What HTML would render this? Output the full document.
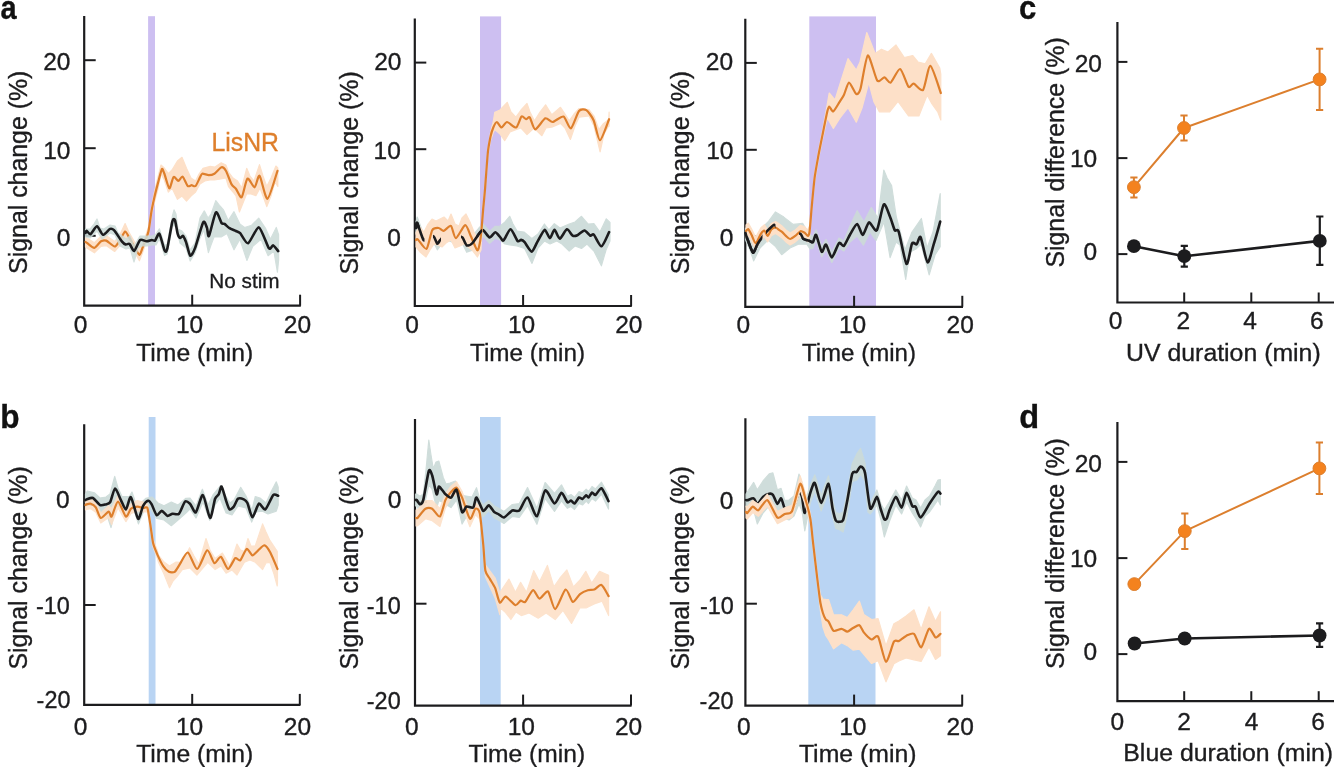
<!DOCTYPE html>
<html><head><meta charset="utf-8"><title>Figure</title>
<style>html,body{margin:0;padding:0;background:#fff;width:1334px;height:767px;overflow:hidden}
svg text{font-family:"Liberation Sans", sans-serif}</style></head>
<body>
<svg width="1334" height="767" viewBox="0 0 1334 767" style="display:block;font-family:'Liberation Sans', sans-serif;filter:blur(0.35px)">
<rect width="1334" height="767" fill="#ffffff"/>
<rect x="148.1" y="16.2" width="6.9" height="289.5" fill="#cdbff1"/>
<path d="M84.2 16 L84.2 305.7 L300.8 305.7" fill="none" stroke="#1c1c1e" stroke-width="2.2" stroke-linejoin="miter"/>
<line x1="84.2" y1="60.2" x2="95.7" y2="60.2" stroke="#1c1c1e" stroke-width="2"/>
<line x1="84.2" y1="148.2" x2="95.7" y2="148.2" stroke="#1c1c1e" stroke-width="2"/>
<line x1="84.2" y1="235.8" x2="95.7" y2="235.8" stroke="#1c1c1e" stroke-width="2"/>
<line x1="192.2" y1="305.7" x2="192.2" y2="294.7" stroke="#1c1c1e" stroke-width="2"/>
<line x1="300.1" y1="305.7" x2="300.1" y2="294.7" stroke="#1c1c1e" stroke-width="2"/>
<path d="M85.5 237 L87.3 238.2 L94.4 242.8 L101 236.3 L106.2 235.6 L114.6 241.5 L119.2 236.3 L125.1 223.5 L129 232.4 L134 241 L139.4 248.8 L142.6 242.6 L145.5 236 L148.5 227.3 L151.7 206 L154.1 193.5 L158 176.9 L161 165 L164.3 168 L168.3 173.7 L172 170 L177.4 161 L182 157.3 L186.5 168.3 L191 178 L195.6 181 L199 174 L203 168.3 L210.2 166.4 L215 167 L221.2 162.8 L225.9 165 L228.5 172 L233 178 L237.6 181 L241.7 188 L246.7 168.3 L250 176 L254 181 L259.5 164.6 L263 176 L266.8 186.5 L271 178 L275.9 166 L277.8 168 L277.8 186.5 L275 182 L271 196 L266.8 206.6 L263 196 L260 188 L255.9 195.6 L251 194 L246.7 193.8 L243 203 L239.4 212 L236 196 L233 192 L228.5 186.5 L225.9 178 L219.4 179.2 L214.4 180 L210 180 L204.8 181 L200 184 L195.6 192 L191 196 L186.5 201.1 L182 196 L177.4 199.3 L172 188 L168.3 192 L164.3 180 L161 174 L158 188.9 L154.1 203.5 L151.7 214 L148.5 235.3 L145.5 244 L142.6 252.6 L139.4 260.8 L134 251 L129 242.4 L125.1 237.5 L119.2 246.3 L114.6 251.5 L106.2 245.6 L101 246.3 L94.4 252.8 L87.3 248.2 L85.5 247 Z" fill="#fde0c8" stroke="#fde0c8" stroke-width="1.2" stroke-linejoin="round"/>
<path d="M85.5 242 C85.7 242.1 86.3 242.5 87.3 243.2 C88.3 243.9 92.8 248 94.4 247.8 C96 247.6 99.6 242.1 101 241.3 C102.4 240.5 104.6 240 106.2 240.6 C107.8 241.2 113.1 246.4 114.6 246.5 C116.1 246.6 118 243.1 119.2 241.3 C120.4 239.6 124 232 125.1 231.5 C126.2 231 128 235.7 129 237.4 C130 239.1 132.8 244 134 246 C135.2 248 138.4 254.6 139.4 254.8 C140.4 255 141.9 249.3 142.6 247.6 C143.3 245.9 144.8 241.9 145.5 240 C146.2 238.1 147.8 234.8 148.5 231.3 C149.2 227.8 151 213.8 151.7 210 C152.4 206.2 153.4 201.7 154.1 198.5 C154.8 195.3 157.1 186.3 158 182.9 C158.9 179.5 161.2 170.3 161.9 169.2 C162.6 168.1 163.4 171.3 164.3 173.5 C165.2 175.7 168.2 187.9 169.3 188.3 C170.4 188.7 172.5 177.9 173.6 177 C174.7 176.1 177.2 180.9 178.3 180.9 C179.4 180.9 181.5 176 182.6 176.6 C183.7 177.2 186.6 185 187.7 186 C188.8 187 190.7 185.2 191.6 185.2 C192.5 185.2 194.6 186.9 195.6 186 C196.6 185.1 199.2 178.8 200 177.4 C200.8 176 201.2 174 202.2 173.7 C203.2 173.4 207.3 175.1 208.7 175.1 C210.1 175.1 212.9 174.6 214.4 173.7 C215.9 172.8 220.3 167.5 221.6 167.2 C222.9 166.9 224.7 168.8 225.9 170.8 C227.1 172.8 230.4 182.3 231.6 184.4 C232.8 186.5 234.7 187.2 235.9 188.7 C237.1 190.2 240.4 198.5 241.7 197.3 C243 196.1 245.9 179.9 247.4 178.7 C248.9 177.5 253.2 187.6 254.6 187.3 C256 187 258.1 174.5 259.6 175.8 C261.1 177.1 265.4 199.4 267.5 198.8 C269.6 198.2 276.3 174.1 277.5 170.8" fill="none" stroke="#de7f2c" stroke-width="2.2" stroke-linejoin="round" stroke-linecap="round"/>
<path d="M85.5 229 L90 229 L94 224 L97 219 L100 228 L104 229 L110 225 L115 226 L118 233 L122 236 L126 239 L130 236 L134 246 L140 236 L146 236 L152 236 L156 234 L159.4 228.8 L164.6 245.5 L167.2 244 L172.4 216 L174 209.8 L176 214 L178 229 L182 231 L186 236 L190 250 L195 243 L200 218 L204.3 210.9 L208 218 L211.1 214 L215.8 200.6 L220 206 L223.5 210 L228.2 220.5 L234 211.7 L239.9 224 L244.6 227.5 L251.6 225.2 L258.7 218.2 L265.7 228.7 L270.4 239.3 L276.3 227.5 L278.6 234.6 L278.6 260.4 L277.4 272.1 L273.9 251 L268.1 255.7 L261 239.3 L252.8 246.3 L246.9 260.4 L239.9 239.3 L234 249.8 L227 233.4 L221.1 236.9 L214.1 236.9 L211 245 L208.4 252.6 L204 230 L200 238 L195 253 L190.2 261 L186 248 L180 243 L176 226 L172.4 226 L167.2 254 L164.6 255.5 L159.4 238.8 L156 245 L152 245 L147 246 L142 246 L138 248 L134 262 L130 248 L126 249 L120 246 L115 235 L110 233 L102 239 L97 231 L90 238 L85.5 237 Z" fill="#ccdbd8" stroke="#ccdbd8" stroke-width="1.2" stroke-linejoin="round" opacity="0.85"/>
<path d="M85.5 233 C85.6 232.7 86 230.7 86.6 230.8 C87.2 230.9 89.3 234.6 90.5 234.1 C91.7 233.6 95.6 226.2 97 226.3 C98.4 226.4 101.4 234.5 102.9 234.8 C104.4 235.1 108.8 229.4 110.1 228.9 C111.4 228.4 112.6 228.8 114 230.2 C115.4 231.6 120.4 239.6 121.8 241.3 C123.2 243 124.8 244.2 125.7 244.5 C126.6 244.8 128.6 243.1 129.6 243.9 C130.6 244.7 133 251.5 134.2 251 C135.4 250.5 138.7 241.1 140.1 240 C141.5 238.9 145.2 241.3 146.6 241.3 C148 241.3 150.8 240.1 151.8 240 C152.8 239.9 154.1 241.3 155 240.6 C155.9 239.9 158.3 232.6 159.4 233.8 C160.5 235 163.7 248.7 164.6 250.5 C165.5 252.3 166.3 252.4 167.2 249 C168.1 245.6 171.5 224.6 172.4 221.3 C173.3 218 174.4 218.8 175 220.3 C175.6 221.8 177.1 231.7 177.7 233.8 C178.3 235.9 179.7 237.8 180.3 238 C180.9 238.2 182.2 235.4 182.9 235.9 C183.6 236.4 185.1 239.7 186 242 C186.9 244.3 189.2 255 190.2 255.7 C191.2 256.4 193.4 252.3 194.9 248.4 C196.4 244.5 201.8 224.7 203.2 222.3 C204.6 219.9 206.2 226 206.9 227.6 C207.6 229.2 207.9 237.7 209 235.9 C210.1 234.1 214.4 213.9 215.9 212.4 C217.4 210.9 220.6 221.8 221.6 223.1 C222.6 224.4 223.6 223.3 224.5 223.9 C225.4 224.5 228.2 227.4 229.5 228.2 C230.8 229 234.7 230.4 235.9 231 C237.1 231.6 238.8 231.8 240.2 233.2 C241.6 234.6 245.9 243.9 248.1 243.2 C250.3 242.5 256.5 226.8 258.9 227.4 C261.3 228 267.2 246.1 268.9 248.2 C270.6 250.3 272.1 245.1 273.2 245.4 C274.3 245.7 277.6 250.4 278.2 251.1" fill="none" stroke="#1c1c1e" stroke-width="2.6" stroke-linejoin="round" stroke-linecap="round"/>
<text x="70.4" y="70" font-size="24.5" text-anchor="end" font-weight="normal" fill="#1c1c1e" stroke="#1c1c1e" stroke-width="0.35">20</text>
<text x="70.4" y="159.3" font-size="24.5" text-anchor="end" font-weight="normal" fill="#1c1c1e" stroke="#1c1c1e" stroke-width="0.35">10</text>
<text x="70.4" y="245.7" font-size="24.5" text-anchor="end" font-weight="normal" fill="#1c1c1e" stroke="#1c1c1e" stroke-width="0.35">0</text>
<text x="80.5" y="333" font-size="24.5" text-anchor="middle" font-weight="normal" fill="#1c1c1e" stroke="#1c1c1e" stroke-width="0.35">0</text>
<text x="189.6" y="333" font-size="24.5" text-anchor="middle" font-weight="normal" fill="#1c1c1e" stroke="#1c1c1e" stroke-width="0.35">10</text>
<text x="297.4" y="333" font-size="24.5" text-anchor="middle" font-weight="normal" fill="#1c1c1e" stroke="#1c1c1e" stroke-width="0.35">20</text>
<text transform="translate(26.7 273.9) rotate(-90)" x="0" y="0" font-size="25" fill="#1c1c1e" stroke="#1c1c1e" stroke-width="0.35" textLength="203.3" lengthAdjust="spacingAndGlyphs">Signal change (%)</text>
<text x="136.2" y="360.8" font-size="24.7" text-anchor="start" font-weight="normal" fill="#1c1c1e" stroke="#1c1c1e" stroke-width="0.35" textLength="117.1" lengthAdjust="spacingAndGlyphs">Time (min)</text>
<rect x="480" y="16.4" width="21.1" height="289.6" fill="#cdbff1"/>
<path d="M414.8 18.5 L414.8 306 L631.8 306" fill="none" stroke="#1c1c1e" stroke-width="2.2" stroke-linejoin="miter"/>
<line x1="414.8" y1="62.6" x2="426.3" y2="62.6" stroke="#1c1c1e" stroke-width="2"/>
<line x1="414.8" y1="149.2" x2="426.3" y2="149.2" stroke="#1c1c1e" stroke-width="2"/>
<line x1="414.8" y1="236" x2="426.3" y2="236" stroke="#1c1c1e" stroke-width="2"/>
<line x1="523.1" y1="306" x2="523.1" y2="295" stroke="#1c1c1e" stroke-width="2"/>
<line x1="631.1" y1="306" x2="631.1" y2="295" stroke="#1c1c1e" stroke-width="2"/>
<path d="M416 222 L417.2 217 L423.6 234.2 L428 230 L433.7 230.6 L437.3 237.8 L440.1 234.2 L446 228 L452 230 L457 230 L462.4 231.4 L466.7 238.3 L472.4 236.1 L479.6 227.1 L483.2 224.2 L489.6 231.4 L495.3 226.3 L499.8 226.2 L505 222 L509.7 216.3 L513 224 L517.1 231.1 L524 232 L532 238.6 L538 234 L544.4 224 L549 230 L554.3 223.7 L560 228 L569.2 224 L575 222 L581.5 216.3 L588 224 L593.9 223.7 L600 232 L606.3 218.8 L610 222.5 L610 241 L606 250 L601.4 265.8 L593.9 251 L587 244 L581.5 248.5 L575 246 L569.2 251 L562 244 L556.8 241 L550 244 L544.4 241 L538 248 L532 263.4 L524.6 248.5 L517 246 L509.7 244.8 L505 244 L499.8 240 L495.3 238.3 L489.6 243.4 L483.2 236.2 L479.6 239.1 L472.4 250.1 L466.7 252.3 L462.4 243.4 L457 242 L452 242 L446 240 L440.1 246.2 L437.3 249.8 L433.7 242.6 L428 242 L423.6 246.2 L417.2 229 L416 234 Z" fill="#ccdbd8" stroke="#ccdbd8" stroke-width="1.2" stroke-linejoin="round" opacity="0.92"/>
<path d="M416 228 C416.1 227.4 416.3 221.6 417.2 223 C418.1 224.4 422.3 238.7 423.6 240.2 C424.9 241.7 426.8 236.4 428 236 C429.2 235.6 432.6 235.7 433.7 236.6 C434.8 237.5 436.6 243.4 437.3 243.8 C438 244.2 439.1 241.3 440.1 240.2 C441.1 239.1 444.6 234.5 446 234 C447.4 233.5 450.7 235.8 452 236 C453.3 236.2 455.8 235.8 457 236 C458.2 236.2 461.3 236.3 462.4 237.4 C463.5 238.5 465.5 244.6 466.7 245.3 C467.9 246 470.9 244.5 472.4 243.1 C473.9 241.7 478.3 234.6 479.6 233.1 C480.9 231.6 482 229.7 483.2 230.2 C484.4 230.7 488.2 237.2 489.6 237.4 C491 237.6 494.1 232.4 495.3 232.3 C496.5 232.2 499 236 500 236.9 C501 237.8 502.3 241.3 503.5 240.4 C504.7 239.5 509 229.2 510.6 229.3 C512.2 229.4 516.4 239.8 517.6 241 C518.8 242.2 520.3 239.8 521.1 239.9 C521.9 240 523.4 240.8 524.6 242.2 C525.8 243.6 530.2 251.7 531.7 251.6 C533.2 251.5 536 244.1 537.5 241.6 C539 239.1 543.2 230.3 544.6 229.9 C546 229.5 548.7 238.1 549.9 238.1 C551.1 238.1 553.3 229.8 554.5 229.9 C555.7 230 558.4 238.8 559.8 238.7 C561.2 238.6 565.4 229.7 566.9 229.3 C568.4 229 571.5 235 572.7 235.7 C573.9 236.4 576 235.8 577.4 235.2 C578.8 234.6 583 230.4 584.5 230.5 C586 230.6 589.2 235.2 590.3 235.7 C591.4 236.2 592.5 233.4 593.8 234.6 C595.1 235.8 599.7 246.6 601.5 246.3 C603.3 246 608.2 233.8 609.1 232.2" fill="none" stroke="#1c1c1e" stroke-width="2.6" stroke-linejoin="round" stroke-linecap="round"/>
<path d="M416 232 L420 227 L424 232 L428 224 L432 219 L436 221 L440 219 L444 217 L448 221 L451 214 L455 224 L459 226 L462 218 L466 214 L470 222 L474 232 L478 240 L481 232 L482.3 217 L483.2 205.7 L485 186.5 L487.8 150 L490.5 132.6 L493.3 121.5 L494.8 112.2 L500 110 L507.2 102.3 L511 112 L515.9 117.2 L521 110 L527 103.5 L530 112 L534.5 120.9 L540 112 L545.6 104.8 L551.8 114.7 L560.5 107.3 L565 114 L569.2 120.9 L574 114 L579.1 108.5 L589 109.7 L594 116 L598.9 129.6 L603 124 L608.8 119.6 L609.1 112.2 L609.1 126.2 L608.8 125.8 L604 134 L600.1 151.9 L594 126 L589 115.9 L579.1 117.2 L575 126 L570.4 139.5 L565 128 L560.5 123.4 L551.8 127.1 L546 128 L541.9 135.7 L534 128 L527 134.5 L521 128 L515.9 129.6 L510 132 L504.7 140.7 L500 134 L494.8 129.6 L493.3 132.5 L490.5 140.6 L487.8 156 L485 192.5 L483.2 211.7 L482.3 223 L481 250 L477.4 257 L472 250 L468 247 L464 244 L460 246 L455 248 L451 240 L446 243 L442 247 L438 245 L434 244 L430 250 L426 257 L420 252 L416 247 Z" fill="#fde0c8" stroke="#fde0c8" stroke-width="1.2" stroke-linejoin="round"/>
<path d="M416 240 C416.2 239.9 416.7 238.5 417.9 239.5 C419.1 240.5 424.8 249.9 426.5 248.8 C428.2 247.7 430.8 232.6 432.2 230.2 C433.6 227.8 437.4 227.9 438.7 228 C440 228.1 442.3 231.1 443.7 230.9 C445.1 230.7 449.5 225.1 450.9 225.9 C452.3 226.7 454.2 238.2 455.9 238.1 C457.6 238 463.4 225.4 465.2 225.2 C467 225 469.6 233.7 471 236.6 C472.4 239.5 476.3 249.9 477.4 250.3 C478.5 250.7 479.7 243.7 480.3 240.2 C480.9 236.7 482 223.7 482.3 220 C482.6 216.3 482.9 212.3 483.2 208.7 C483.5 205.1 484.5 196 485 189.5 C485.5 183 487.2 159.2 487.8 153 C488.4 146.8 489.9 139.6 490.5 136.6 C491.1 133.6 492.6 129.2 493.3 127.5 C494 125.8 495.9 122 496.9 122 C497.9 122 500.3 127.5 501.5 127.5 C502.7 127.5 505.3 122 507 122 C508.7 122 514.4 128.1 516.1 127.5 C517.8 126.9 520.3 117.5 521.5 116.5 C522.7 115.5 525.1 119.1 526.1 119.2 C527.1 119.3 528.7 116.2 529.8 117.4 C530.9 118.6 533.4 129.2 535.2 129.3 C537 129.4 543.3 119.2 545.3 118.3 C547.3 117.4 550.5 122.2 552.6 122 C554.7 121.8 561.4 115.8 563.5 116.5 C565.6 117.2 569 129 570.8 128.4 C572.6 127.8 577.2 113.1 579 111 C580.8 108.9 584.6 109 586.3 110.1 C588 111.2 592 116.7 593.6 120.2 C595.2 123.7 598.2 140.3 600 140.2 C601.8 140.1 608 121.7 609.1 119.2" fill="none" stroke="#de7f2c" stroke-width="2.2" stroke-linejoin="round" stroke-linecap="round"/>
<clipPath id="clip_a2"><rect x="415" y="0" width="9.5" height="767"/><rect x="433" y="0" width="8" height="767"/><rect x="461" y="0" width="21" height="767"/></clipPath>
<path d="M416 228 C416.1 227.4 416.3 221.6 417.2 223 C418.1 224.4 422.3 238.7 423.6 240.2 C424.9 241.7 426.8 236.4 428 236 C429.2 235.6 432.6 235.7 433.7 236.6 C434.8 237.5 436.6 243.4 437.3 243.8 C438 244.2 439.1 241.3 440.1 240.2 C441.1 239.1 444.6 234.5 446 234 C447.4 233.5 450.7 235.8 452 236 C453.3 236.2 455.8 235.8 457 236 C458.2 236.2 461.3 236.3 462.4 237.4 C463.5 238.5 465.5 244.6 466.7 245.3 C467.9 246 470.9 244.5 472.4 243.1 C473.9 241.7 478.3 234.6 479.6 233.1 C480.9 231.6 482 229.7 483.2 230.2 C484.4 230.7 488.2 237.2 489.6 237.4 C491 237.6 494.1 232.4 495.3 232.3 C496.5 232.2 499 236 500 236.9 C501 237.8 502.3 241.3 503.5 240.4 C504.7 239.5 509 229.2 510.6 229.3 C512.2 229.4 516.4 239.8 517.6 241 C518.8 242.2 520.3 239.8 521.1 239.9 C521.9 240 523.4 240.8 524.6 242.2 C525.8 243.6 530.2 251.7 531.7 251.6 C533.2 251.5 536 244.1 537.5 241.6 C539 239.1 543.2 230.3 544.6 229.9 C546 229.5 548.7 238.1 549.9 238.1 C551.1 238.1 553.3 229.8 554.5 229.9 C555.7 230 558.4 238.8 559.8 238.7 C561.2 238.6 565.4 229.7 566.9 229.3 C568.4 229 571.5 235 572.7 235.7 C573.9 236.4 576 235.8 577.4 235.2 C578.8 234.6 583 230.4 584.5 230.5 C586 230.6 589.2 235.2 590.3 235.7 C591.4 236.2 592.5 233.4 593.8 234.6 C595.1 235.8 599.7 246.6 601.5 246.3 C603.3 246 608.2 233.8 609.1 232.2" fill="none" stroke="#1c1c1e" stroke-width="2.6" stroke-linejoin="round" stroke-linecap="round" clip-path="url(#clip_a2)"/>
<text x="401.5" y="70.1" font-size="24.5" text-anchor="end" font-weight="normal" fill="#1c1c1e" stroke="#1c1c1e" stroke-width="0.35">20</text>
<text x="400.8" y="159.3" font-size="24.5" text-anchor="end" font-weight="normal" fill="#1c1c1e" stroke="#1c1c1e" stroke-width="0.35">10</text>
<text x="400.8" y="245.7" font-size="24.5" text-anchor="end" font-weight="normal" fill="#1c1c1e" stroke="#1c1c1e" stroke-width="0.35">0</text>
<text x="412" y="333" font-size="24.5" text-anchor="middle" font-weight="normal" fill="#1c1c1e" stroke="#1c1c1e" stroke-width="0.35">0</text>
<text x="521.6" y="333" font-size="24.5" text-anchor="middle" font-weight="normal" fill="#1c1c1e" stroke="#1c1c1e" stroke-width="0.35">10</text>
<text x="628.8" y="333" font-size="24.5" text-anchor="middle" font-weight="normal" fill="#1c1c1e" stroke="#1c1c1e" stroke-width="0.35">20</text>
<text transform="translate(357.8 274.6) rotate(-90)" x="0" y="0" font-size="25" fill="#1c1c1e" stroke="#1c1c1e" stroke-width="0.35" textLength="203.3" lengthAdjust="spacingAndGlyphs">Signal change (%)</text>
<text x="470" y="360.6" font-size="24.7" text-anchor="start" font-weight="normal" fill="#1c1c1e" stroke="#1c1c1e" stroke-width="0.35" textLength="115" lengthAdjust="spacingAndGlyphs">Time (min)</text>
<rect x="809.3" y="16.4" width="66.7" height="290.4" fill="#cdbff1"/>
<path d="M745.3 18.8 L745.3 306.8 L963 306.8" fill="none" stroke="#1c1c1e" stroke-width="2.2" stroke-linejoin="miter"/>
<line x1="745.3" y1="62.9" x2="756.8" y2="62.9" stroke="#1c1c1e" stroke-width="2"/>
<line x1="745.3" y1="149.8" x2="756.8" y2="149.8" stroke="#1c1c1e" stroke-width="2"/>
<line x1="745.3" y1="236.7" x2="756.8" y2="236.7" stroke="#1c1c1e" stroke-width="2"/>
<line x1="854.1" y1="306.8" x2="854.1" y2="295.8" stroke="#1c1c1e" stroke-width="2"/>
<line x1="962.3" y1="306.8" x2="962.3" y2="295.8" stroke="#1c1c1e" stroke-width="2"/>
<path d="M745.5 228 L750 231 L756 240 L762 228 L768 222 L775.5 211.9 L783.8 217.1 L793.2 224.4 L802.6 223.4 L808 232 L809.9 235.1 L813 236.2 L816.1 229.8 L821.7 246.7 L826 239.5 L831.8 252.4 L839 238.1 L843.9 240.9 L850 226 L857.2 210.7 L864 222 L871.3 207.6 L878 218 L883.8 170 L887 177.8 L891.6 185.6 L896.3 217 L905 250 L912 232 L921.4 218.5 L927 248 L933 232 L940.2 193.5 L940.2 246.7 L935 255 L929.2 274.9 L921 244 L916 249 L910 252 L905.7 279.5 L900 245 L896 242 L890.1 257.6 L884 222 L876 240.4 L870 232 L863.5 245.1 L857 236 L850 242 L843.9 250.9 L839 248.1 L831.8 262.4 L826 249.5 L821.7 256.7 L816.1 239.8 L813 248.2 L810 249 L806.8 244.2 L798.4 244.2 L790 248 L781.7 254.7 L775 246 L768 240 L760 248 L753.6 260.9 L750 250 L745.5 240 Z" fill="#ccdbd8" stroke="#ccdbd8" stroke-width="1.2" stroke-linejoin="round" opacity="0.92"/>
<path d="M745.5 233 C745.6 233.3 746 235.1 746.3 235.9 C746.6 236.7 747 238.2 747.8 240.1 C748.6 242 751.9 252 753 252.6 C754.1 253.2 756 246.8 757 245 C758 243.2 760.7 239.1 761.9 237.5 C763.1 235.9 765.6 232.7 767.1 231.2 C768.6 229.7 773 224.8 774.4 224.9 C775.8 225 777.9 230.5 779 232 C780.1 233.5 782.6 237 783.8 237.5 C785 238 787.7 236.4 789 236 C790.3 235.6 793.7 234.3 795 234 C796.3 233.7 799.6 233.3 800.5 233.8 C801.4 234.3 802.4 237.8 803.1 238.5 C803.8 239.2 805.7 239.7 806.5 240 C807.3 240.3 809.1 240.8 809.9 241.1 C810.7 241.4 812.3 242.9 813 242.2 C813.7 241.5 815.1 233.7 816.1 234.8 C817.1 235.9 820.5 250.6 821.7 251.7 C822.9 252.8 824.8 243.8 826 244.5 C827.2 245.2 830.3 257.6 831.8 257.4 C833.3 257.2 837.6 244.4 839 243.1 C840.4 241.8 842.6 246.9 843.9 245.9 C845.2 244.9 848.6 236.8 850.2 234.2 C851.8 231.6 855.7 223.9 857.2 224 C858.7 224.1 861.3 235.1 862.7 234.9 C864.1 234.7 867.4 222.9 869 222.4 C870.6 221.9 875.1 232.4 876.8 230.3 C878.5 228.2 882.2 206 883.8 204.4 C885.4 202.8 888.8 214 890.1 217 C891.4 220 893.8 228.6 894.8 230.3 C895.8 232 897.3 227.9 898.7 231.8 C900.1 235.7 904.9 262.5 906.5 263.9 C908.1 265.3 910.8 245.9 912 243.6 C913.2 241.3 915.7 245 916.7 244.3 C917.7 243.6 919.3 235.2 920.6 237.3 C921.9 239.4 926 261.6 927.6 262.3 C929.2 263 932.4 248.3 933.9 243.6 C935.4 238.9 939.5 224.2 940.2 221.6" fill="none" stroke="#1c1c1e" stroke-width="2.6" stroke-linejoin="round" stroke-linecap="round"/>
<path d="M746 225 L748.3 223.1 L751.5 228.8 L755.6 237.2 L760.9 227.8 L764.5 224.7 L767.6 229.9 L771.3 223.6 L775.5 221.5 L778.6 223.6 L781.7 225.7 L785.9 229.9 L790.1 233 L795.3 229.9 L800.5 225.2 L804.7 226.8 L807.8 229.9 L809.5 226 L811.7 203.2 L814.6 173.9 L818.6 150.5 L822.5 130.9 L827.3 104 L829.2 93 L835 100 L840 84 L848 58.6 L856.3 70 L860 62 L866.8 32.5 L875.1 53.4 L881.4 49.2 L888 52 L896 45 L904.3 57.5 L912.6 55.5 L918 62 L925.2 63.8 L931.4 53.4 L939.8 68 L940.8 74 L940.8 120 L937.7 111.8 L932 104 L927.2 95.1 L918.9 116 L908.5 116 L898 101.4 L889.7 111.8 L879.3 111.8 L874 102 L868.8 82.6 L862 108 L856.3 122.2 L848 107.6 L840 118 L833.4 128.5 L827.3 118 L822.5 138.9 L818.6 158.5 L814.6 181.9 L811.7 211.2 L809.5 238 L807.8 241.9 L804.7 238.8 L800.5 237.2 L795.3 241.9 L790.1 245 L785.9 241.9 L781.7 237.7 L778.6 235.6 L775.5 233.5 L771.3 235.6 L767.6 241.9 L764.5 236.7 L760.9 239.8 L755.6 249.2 L751.5 240.8 L748.3 235.1 L746 237 Z" fill="#fde0c8" stroke="#fde0c8" stroke-width="1.2" stroke-linejoin="round"/>
<path d="M746 231 C746.3 230.8 747.7 228.7 748.3 229.1 C748.9 229.5 750.6 233.2 751.5 234.8 C752.4 236.4 754.5 243.3 755.6 243.2 C756.7 243.1 759.9 235.3 760.9 233.8 C761.9 232.3 763.7 230.5 764.5 230.7 C765.3 230.9 766.8 236 767.6 235.9 C768.4 235.8 770.4 230.6 771.3 229.6 C772.2 228.6 774.6 227.5 775.5 227.5 C776.4 227.5 777.9 229.1 778.6 229.6 C779.3 230.1 780.8 231 781.7 231.7 C782.6 232.4 784.9 235 785.9 235.9 C786.9 236.8 789 239 790.1 239 C791.2 239 794.1 236.8 795.3 235.9 C796.5 235 799.4 231.6 800.5 231.2 C801.6 230.8 803.8 232.3 804.7 232.8 C805.6 233.3 807.2 236 807.8 235.9 C808.4 235.8 809 235.3 809.5 232 C810 228.7 811.1 213.5 811.7 207.2 C812.3 200.9 813.8 184 814.6 177.9 C815.4 171.8 817.7 159.5 818.6 154.5 C819.5 149.5 821.5 139.9 822.5 134.9 C823.5 129.9 826.5 114.8 827.3 111.5 C828.1 108.2 828.6 106.6 829.3 106.6 C830 106.6 832.1 112 833.2 111.5 C834.3 111 837.9 104.6 839.1 102.7 C840.3 100.8 842.7 97.2 843.9 94.9 C845.1 92.6 847.6 82.7 849 82.6 C850.4 82.5 855 93.3 856.3 94 C857.6 94.7 859.2 93.3 860.5 88.8 C861.8 84.3 865.9 56.5 867.8 55.5 C869.7 54.5 875.3 77.9 877.2 80.5 C879.1 83.1 882.9 77.2 884.5 77.4 C886.1 77.6 888.9 83.6 890.7 82.6 C892.5 81.6 898 68.5 900.1 69 C902.2 69.5 906.9 85.1 908.5 86.8 C910.1 88.5 912 83.2 913.7 83.6 C915.4 84 921.2 92 923.1 89.9 C925 87.8 928.3 65.5 930.4 65.9 C932.5 66.3 939.6 89.8 940.8 93" fill="none" stroke="#de7f2c" stroke-width="2.2" stroke-linejoin="round" stroke-linecap="round"/>
<clipPath id="clip_a3"><rect x="745" y="0" width="17.5" height="767"/><rect x="766" y="0" width="9.5" height="767"/><rect x="799" y="0" width="13" height="767"/></clipPath>
<path d="M745.5 233 C745.6 233.3 746 235.1 746.3 235.9 C746.6 236.7 747 238.2 747.8 240.1 C748.6 242 751.9 252 753 252.6 C754.1 253.2 756 246.8 757 245 C758 243.2 760.7 239.1 761.9 237.5 C763.1 235.9 765.6 232.7 767.1 231.2 C768.6 229.7 773 224.8 774.4 224.9 C775.8 225 777.9 230.5 779 232 C780.1 233.5 782.6 237 783.8 237.5 C785 238 787.7 236.4 789 236 C790.3 235.6 793.7 234.3 795 234 C796.3 233.7 799.6 233.3 800.5 233.8 C801.4 234.3 802.4 237.8 803.1 238.5 C803.8 239.2 805.7 239.7 806.5 240 C807.3 240.3 809.1 240.8 809.9 241.1 C810.7 241.4 812.3 242.9 813 242.2 C813.7 241.5 815.1 233.7 816.1 234.8 C817.1 235.9 820.5 250.6 821.7 251.7 C822.9 252.8 824.8 243.8 826 244.5 C827.2 245.2 830.3 257.6 831.8 257.4 C833.3 257.2 837.6 244.4 839 243.1 C840.4 241.8 842.6 246.9 843.9 245.9 C845.2 244.9 848.6 236.8 850.2 234.2 C851.8 231.6 855.7 223.9 857.2 224 C858.7 224.1 861.3 235.1 862.7 234.9 C864.1 234.7 867.4 222.9 869 222.4 C870.6 221.9 875.1 232.4 876.8 230.3 C878.5 228.2 882.2 206 883.8 204.4 C885.4 202.8 888.8 214 890.1 217 C891.4 220 893.8 228.6 894.8 230.3 C895.8 232 897.3 227.9 898.7 231.8 C900.1 235.7 904.9 262.5 906.5 263.9 C908.1 265.3 910.8 245.9 912 243.6 C913.2 241.3 915.7 245 916.7 244.3 C917.7 243.6 919.3 235.2 920.6 237.3 C921.9 239.4 926 261.6 927.6 262.3 C929.2 263 932.4 248.3 933.9 243.6 C935.4 238.9 939.5 224.2 940.2 221.6" fill="none" stroke="#1c1c1e" stroke-width="2.6" stroke-linejoin="round" stroke-linecap="round" clip-path="url(#clip_a3)"/>
<text x="733.1" y="70" font-size="24.5" text-anchor="end" font-weight="normal" fill="#1c1c1e" stroke="#1c1c1e" stroke-width="0.35">20</text>
<text x="733.4" y="159.3" font-size="24.5" text-anchor="end" font-weight="normal" fill="#1c1c1e" stroke="#1c1c1e" stroke-width="0.35">10</text>
<text x="733.4" y="245.7" font-size="24.5" text-anchor="end" font-weight="normal" fill="#1c1c1e" stroke="#1c1c1e" stroke-width="0.35">0</text>
<text x="743.4" y="333" font-size="24.5" text-anchor="middle" font-weight="normal" fill="#1c1c1e" stroke="#1c1c1e" stroke-width="0.35">0</text>
<text x="852.6" y="333" font-size="24.5" text-anchor="middle" font-weight="normal" fill="#1c1c1e" stroke="#1c1c1e" stroke-width="0.35">10</text>
<text x="960.2" y="333" font-size="24.5" text-anchor="middle" font-weight="normal" fill="#1c1c1e" stroke="#1c1c1e" stroke-width="0.35">20</text>
<text transform="translate(689.3 274.2) rotate(-90)" x="0" y="0" font-size="25" fill="#1c1c1e" stroke="#1c1c1e" stroke-width="0.35" textLength="203.3" lengthAdjust="spacingAndGlyphs">Signal change (%)</text>
<text x="801.9" y="360.8" font-size="24.7" text-anchor="start" font-weight="normal" fill="#1c1c1e" stroke="#1c1c1e" stroke-width="0.35" textLength="114.1" lengthAdjust="spacingAndGlyphs">Time (min)</text>
<rect x="148.7" y="417" width="6.8" height="287.9" fill="#b9d4f3"/>
<path d="M84.2 424.3 L84.2 704.9 L300.5 704.9" fill="none" stroke="#1c1c1e" stroke-width="2.2" stroke-linejoin="miter"/>
<line x1="84.2" y1="505" x2="95.7" y2="505" stroke="#1c1c1e" stroke-width="2"/>
<line x1="84.2" y1="605" x2="95.7" y2="605" stroke="#1c1c1e" stroke-width="2"/>
<line x1="192.2" y1="704.9" x2="192.2" y2="693.9" stroke="#1c1c1e" stroke-width="2"/>
<line x1="299.8" y1="704.9" x2="299.8" y2="693.9" stroke="#1c1c1e" stroke-width="2"/>
<path d="M85.5 494 L87.3 491 L94.6 492.9 L100 498 L106 497 L110 494 L114.7 476.4 L118 488 L122 496.5 L129.3 496.5 L132 492 L138.4 511.1 L142 502 L145.7 498.3 L152 497 L158 503 L164 505.7 L171.3 502 L178 505 L185.9 498.3 L190 498 L196 506 L202.4 489.2 L208 505 L213 495 L220.6 485.6 L225 495 L230 503 L234 500 L240.7 487.4 L246 496 L252 510 L255.3 496.5 L260 498 L266 503 L272 490 L276.3 481.9 L278.2 487 L278.2 505 L276.3 511.1 L268 514 L262.6 511.1 L256 512 L251.7 522.1 L246 508 L238 506 L232 515 L226.1 513 L220 498 L215 505 L209.7 520.3 L203 502 L196 518 L190 509 L185.9 513 L178 520 L171.3 525.7 L164 520 L156.7 518.4 L150 508 L145 508 L138.4 523.9 L132 504 L128 516 L122 508 L116 506 L111 527.6 L106 512 L101.9 513 L94 504 L87.3 505.7 L85.5 503 Z" fill="#ccdbd8" stroke="#ccdbd8" stroke-width="1.2" stroke-linejoin="round" opacity="0.92"/>
<path d="M85.5 500 L86.5 499.4 L90.8 498.7 L95.8 502.3 L100.8 513 L108.7 505.6 L111.6 508.6 L118 495.6 L125.9 511.6 L130.9 503.7 L137.4 500.6 L143.1 502 L147.4 504 L150.3 520.5 L153.1 539.1 L157.4 550.6 L158.5 555 L164 562 L169.5 566 L176 562 L182.3 562.3 L189.6 547.7 L194 556 L198.7 564.1 L206 538.5 L210 550 L215.1 558.6 L222.4 553.1 L229.7 565.9 L237 544 L240.5 550 L244.4 551.3 L248 538.5 L251 546 L255.3 545.8 L262.6 523.9 L266 532 L269.9 540.4 L277.2 551.3 L277.5 561 L277.5 583 L277.2 586 L274 574 L269.9 562.3 L266 563 L262.6 569.6 L255.3 562.3 L250 560 L244.4 562.3 L237 575 L232 570 L226.1 573.2 L221 566 L215.1 569.6 L207.8 562.3 L202 569 L196.9 575 L190 568 L182.3 569.6 L176.8 576.9 L173 581 L169.5 587.8 L164 574 L158.5 562.3 L157.4 558.6 L153.1 547.1 L150.3 528.5 L147.4 512 L143.1 512 L137.4 510.6 L130.9 513.7 L125.9 521.6 L118 507.6 L111.6 524.6 L108.7 517.6 L100.8 523 L95.8 512.3 L90.8 508.7 L86.5 509.4 L85.5 510 Z" fill="#fde0c8" stroke="#fde0c8" stroke-width="1.2" stroke-linejoin="round" opacity="0.9"/>
<path d="M85.5 505 C85.6 504.9 85.9 504.6 86.5 504.4 C87.1 504.2 89.7 503.4 90.8 503.7 C91.9 504 94.6 505.6 95.8 507.3 C97 509 99.3 517.5 100.8 518 C102.3 518.5 107.4 511.8 108.7 511.6 C110 511.4 110.5 517.8 111.6 516.6 C112.7 515.4 116.3 501.6 118 501.6 C119.7 501.6 124.4 515.8 125.9 516.6 C127.4 517.4 129.6 509.9 130.9 508.7 C132.2 507.5 136 506.7 137.4 506.6 C138.8 506.5 141.9 507.8 143.1 508 C144.3 508.2 146.6 506.1 147.4 508 C148.2 509.9 149.6 520.4 150.3 524.5 C151 528.6 152.3 539.6 153.1 543.1 C153.9 546.6 156.2 551.9 157.4 554.6 C158.6 557.3 161.9 564.1 163.2 566.1 C164.5 568.1 167.6 571.1 168.9 571.8 C170.2 572.5 173.4 572.7 174.7 571.8 C176 570.9 178.5 566.2 180 563.9 C181.5 561.6 185.9 551.9 187.9 552.5 C189.9 553.1 194.9 569.3 197.2 569 C199.5 568.7 205.2 551 207.2 550.3 C209.2 549.6 212.8 562.4 214.4 563.2 C216 564 219.3 556.1 220.9 556.8 C222.5 557.5 226.3 568.8 228 569 C229.7 569.2 233.8 559.2 235.2 558.2 C236.6 557.2 238.9 561.4 240.2 560.3 C241.5 559.2 245.3 549.5 246.7 548.9 C248.1 548.3 251.1 555.1 252.4 555.3 C253.7 555.5 256.8 551.5 258.2 550.3 C259.6 549.1 263.2 545 264.6 545.3 C266 545.6 268.8 549.7 270.3 552.5 C271.8 555.3 276.7 567.1 277.5 569" fill="none" stroke="#de7f2c" stroke-width="2.2" stroke-linejoin="round" stroke-linecap="round"/>
<path d="M85.5 500 C85.6 499.9 85.6 499.6 86.5 499.4 C87.4 499.2 91.3 497.3 92.9 498 C94.5 498.7 98.6 504.4 100.1 505.1 C101.6 505.8 104.6 504.7 105.8 504.4 C107 504.1 109 504.1 110.1 502.3 C111.2 500.5 113.8 488.9 115.1 488.6 C116.4 488.3 119.6 497.7 120.9 500.1 C122.2 502.5 124.7 509.7 125.9 509.4 C127.1 509.1 129.5 496.1 130.9 497.2 C132.3 498.3 136.7 517.8 138.1 518.8 C139.5 519.8 141.9 508 143.1 505.9 C144.3 503.8 147.1 501 148.1 500.8 C149.1 500.6 150.7 502.7 151.7 504.4 C152.7 506.1 155.5 514.4 156.7 515.2 C157.9 516 160.4 510.8 161.7 510.9 C163 511 166.2 515.6 167.5 515.9 C168.8 516.2 171.2 514 172.5 513.7 C173.8 513.4 177.5 515.1 179 513.7 C180.5 512.3 183.7 502.8 185 501.6 C186.3 500.4 188.7 502.5 190 503.7 C191.3 504.9 194.3 513.3 195.8 512.3 C197.3 511.3 201.2 494.4 202.9 495.1 C204.6 495.8 208.7 517.6 210.1 518 C211.5 518.4 214.1 501.5 215.1 498.7 C216.1 495.9 217.9 495.8 218.7 494.4 C219.5 493 220.8 485.8 221.6 486.5 C222.4 487.2 225 497.4 225.9 500.1 C226.8 502.8 228.6 508.6 229.5 509.4 C230.4 510.2 232.8 507.8 233.8 506.6 C234.8 505.4 236.9 499.5 238.1 498.7 C239.3 497.9 242.7 498.9 243.8 499.4 C244.9 499.9 246.4 500.9 247.4 503 C248.4 505.1 251.1 517.2 252.4 517.3 C253.7 517.4 257.4 504.6 258.9 503.7 C260.4 502.8 263.6 510.4 265.3 509.4 C267 508.4 271.7 496.7 273.2 495.1 C274.7 493.5 277.6 495.7 278.2 495.8" fill="none" stroke="#1c1c1e" stroke-width="2.6" stroke-linejoin="round" stroke-linecap="round"/>
<text x="69.7" y="508.3" font-size="24.5" text-anchor="end" font-weight="normal" fill="#1c1c1e" stroke="#1c1c1e" stroke-width="0.35">0</text>
<text x="35.9" y="614.2" font-size="24.5" text-anchor="start" font-weight="normal" fill="#1c1c1e" stroke="#1c1c1e" stroke-width="0.35" textLength="33.9" lengthAdjust="spacingAndGlyphs">-10</text>
<text x="36.6" y="708.3" font-size="24.5" text-anchor="start" font-weight="normal" fill="#1c1c1e" stroke="#1c1c1e" stroke-width="0.35" textLength="33.9" lengthAdjust="spacingAndGlyphs">-20</text>
<text x="80.5" y="734.5" font-size="24.5" text-anchor="middle" font-weight="normal" fill="#1c1c1e" stroke="#1c1c1e" stroke-width="0.35">0</text>
<text x="189.6" y="734.5" font-size="24.5" text-anchor="middle" font-weight="normal" fill="#1c1c1e" stroke="#1c1c1e" stroke-width="0.35">10</text>
<text x="297.4" y="734.5" font-size="24.5" text-anchor="middle" font-weight="normal" fill="#1c1c1e" stroke="#1c1c1e" stroke-width="0.35">20</text>
<text transform="translate(27 669.6) rotate(-90)" x="0" y="0" font-size="25" fill="#1c1c1e" stroke="#1c1c1e" stroke-width="0.35" textLength="203.3" lengthAdjust="spacingAndGlyphs">Signal change (%)</text>
<text x="136.2" y="761.7" font-size="24.7" text-anchor="start" font-weight="normal" fill="#1c1c1e" stroke="#1c1c1e" stroke-width="0.35" textLength="117.1" lengthAdjust="spacingAndGlyphs">Time (min)</text>
<rect x="480" y="417" width="20.7" height="288.6" fill="#b9d4f3"/>
<path d="M415 419.1 L415 705.6 L631.6 705.6" fill="none" stroke="#1c1c1e" stroke-width="2.2" stroke-linejoin="miter"/>
<line x1="415" y1="502" x2="426.5" y2="502" stroke="#1c1c1e" stroke-width="2"/>
<line x1="415" y1="603.7" x2="426.5" y2="603.7" stroke="#1c1c1e" stroke-width="2"/>
<line x1="523.1" y1="705.6" x2="523.1" y2="694.6" stroke="#1c1c1e" stroke-width="2"/>
<line x1="631" y1="705.6" x2="631" y2="694.6" stroke="#1c1c1e" stroke-width="2"/>
<path d="M415.5 494 L416.7 493.9 L420 496.3 L423.3 494 L426 470 L428.8 440 L431 455 L433.3 468.8 L436 462 L438.8 461 L443.3 477.7 L446 484 L450 483 L455.4 481 L460 495 L466 496 L472 497 L476.5 487.7 L480 500 L483.2 504.9 L488.7 500.4 L494.2 506 L498.7 508.3 L504 511.5 L512.3 504.5 L519.3 503.5 L527.5 487.6 L536.9 508.3 L545.1 482.5 L554.5 493.4 L561.5 484.9 L567.4 496.3 L571 494.5 L574.5 497.5 L579 491.5 L582.5 493 L586.2 489.2 L588.5 491.5 L592 486.5 L595.5 489 L601.5 482.2 L608.5 495.1 L608.5 509.1 L601.5 494.2 L595.5 501 L592 498.5 L588.5 503.5 L586.2 501.2 L582.5 505 L579 503.5 L574.5 509.5 L571 506.5 L567.4 508.3 L561.5 500.9 L554.5 511.4 L545.1 498.5 L536.9 524.3 L527.5 505.6 L519.3 517.5 L512.3 516.5 L504 523.5 L498.7 520.3 L494.2 518 L488.7 510.4 L483.2 516.9 L476.5 505.6 L473.2 515.6 L466.5 516.5 L462.1 524 L456.6 499.9 L451 507.6 L445.5 504.3 L442.1 501.9 L438.8 500.6 L436.6 508.3 L432.2 489.5 L428.8 485 L423.3 509.9 L420 512.3 L416.7 505.9 L415.5 506 Z" fill="#ccdbd8" stroke="#ccdbd8" stroke-width="1.2" stroke-linejoin="round" opacity="0.92"/>
<path d="M416 510 L417.8 509.6 L425.5 500.7 L432.2 500.7 L439.9 508.5 L445.5 493.9 L451 486.1 L456.6 481.7 L462.1 491.6 L469.9 512.7 L475.4 502.7 L479.8 507.2 L483.2 539.2 L485.4 564.8 L490 571.1 L495.2 578.2 L499.8 592.6 L505.6 584 L508.9 579.1 L515.4 592.2 L520.6 582.4 L526.5 592.2 L533.7 570.6 L539.5 581.7 L547.4 565.4 L553.9 586.9 L560 578 L566.9 570 L573.4 586.9 L580 580 L585.8 571.3 L591.7 583 L599.5 571.3 L608.6 575.2 L608.6 615.6 L602.1 601.3 L594.3 603.9 L586.5 607.8 L580 607.8 L571.5 623.4 L563 610.4 L555.2 619.5 L546.1 613 L538.2 618.2 L529.1 613 L521.3 615.6 L516 612 L510.9 619.5 L505 612 L500.4 607.8 L499.8 614.6 L495.2 598.2 L490 587.1 L485.4 576.8 L483.2 549.2 L479.8 519.2 L475.4 514.7 L469.9 526.7 L462.1 505.6 L456.6 493.7 L451 498.1 L445.5 507.9 L439.9 526.5 L432.2 520.7 L425.5 518.7 L417.8 525.6 L416 526 Z" fill="#fde0c8" stroke="#fde0c8" stroke-width="1.2" stroke-linejoin="round" opacity="0.9"/>
<path d="M416 518 C416.2 518 416.7 518.7 417.8 517.6 C418.9 516.5 423.8 509.7 425.5 508.7 C427.2 507.7 430.5 507.8 432.2 508.7 C433.9 509.6 438.3 517.5 439.9 516.5 C441.5 515.5 444.2 502.7 445.5 499.9 C446.8 497.1 449.7 493.5 451 492.1 C452.3 490.7 455.3 487.1 456.6 487.7 C457.9 488.3 460.5 494 462.1 497.6 C463.7 501.2 468.3 517.4 469.9 518.7 C471.5 520 474.2 509.3 475.4 508.7 C476.6 508.1 478.9 509.1 479.8 513.2 C480.7 517.3 482.5 537.5 483.2 544.2 C483.9 550.9 484.6 566.7 485.4 570.8 C486.2 574.9 488.9 577.1 490 579.1 C491.1 581.1 494.1 585.5 495.2 588.2 C496.3 590.9 498.6 601.6 499.8 602.6 C501 603.6 503.8 596.4 505.6 596.7 C507.4 597 513.6 604.7 515.4 605.2 C517.1 605.7 519.5 601 520.6 600.6 C521.7 600.2 523.8 603.1 525.2 601.9 C526.6 600.7 531.3 590.6 533 590.2 C534.7 589.8 537.8 598.5 539.5 598.7 C541.2 598.9 546.2 590.3 548 591.5 C549.8 592.7 553.1 609.3 555.2 609.1 C557.3 608.9 563.5 590.3 565.6 589.5 C567.7 588.7 571.1 601.4 572.8 601.9 C574.5 602.4 578.2 595.5 580 594.1 C581.8 592.7 586.1 590.7 587.8 590.2 C589.5 589.7 592.7 590.1 594.3 589.5 C595.9 588.9 599.8 584.2 601.5 585 C603.2 585.8 607.8 594.8 608.6 596.1" fill="none" stroke="#de7f2c" stroke-width="2.2" stroke-linejoin="round" stroke-linecap="round"/>
<path d="M415.5 500 C415.6 500 416.2 499.4 416.7 499.9 C417.2 500.4 419.2 504.3 420 504.3 C420.8 504.3 422.3 503.8 423.3 499.9 C424.3 496 427.8 473.8 428.8 471 C429.8 468.2 431.3 472.8 432.2 475.5 C433.1 478.2 435.8 493 436.6 494.3 C437.4 495.6 438.2 487.1 438.8 486.6 C439.4 486.1 441.3 489 442.1 489.9 C442.9 490.8 444.5 493.4 445.5 494.3 C446.5 495.2 449.7 498.1 451 497.6 C452.3 497.1 455.3 488.2 456.6 489.9 C457.9 491.6 460.9 510.1 462.1 512 C463.3 513.9 465.2 507 466.5 506.5 C467.8 506 472 508.6 473.2 507.6 C474.4 506.6 475.3 497.2 476.5 497.6 C477.7 498 481.8 510 483.2 510.9 C484.6 511.8 487.4 505.3 488.7 505.4 C490 505.5 493 511 494.2 512 C495.4 513 497.6 513.7 498.7 514.3 C499.8 514.9 502.4 517.9 504 517.5 C505.6 517.1 510.5 511.3 512.3 510.5 C514.1 509.7 517.5 512 519.3 510.5 C521.1 509 525.4 496.9 527.5 497.6 C529.6 498.3 534.8 517.1 536.9 516.3 C539 515.5 543 492 545.1 490.5 C547.2 489 552.6 503.1 554.5 503.4 C556.4 503.7 560 493 561.5 492.9 C563 492.8 566.3 501.4 567.4 502.3 C568.5 503.2 570.2 500.4 571 500.5 C571.8 500.6 573.6 503.9 574.5 503.5 C575.4 503.1 578.1 498 579 497.5 C579.9 497 581.7 499.3 582.5 499 C583.3 498.7 585.5 495.4 586.2 495.2 C586.9 495 587.8 497.8 588.5 497.5 C589.2 497.2 591.2 492.8 592 492.5 C592.8 492.2 594.4 495.5 595.5 495 C596.6 494.5 600 487.5 601.5 488.2 C603 488.9 607.7 499.6 608.5 501.1" fill="none" stroke="#1c1c1e" stroke-width="2.6" stroke-linejoin="round" stroke-linecap="round"/>
<text x="401.5" y="508" font-size="24.5" text-anchor="end" font-weight="normal" fill="#1c1c1e" stroke="#1c1c1e" stroke-width="0.35">0</text>
<text x="366.8" y="613.7" font-size="24.5" text-anchor="start" font-weight="normal" fill="#1c1c1e" stroke="#1c1c1e" stroke-width="0.35" textLength="33.9" lengthAdjust="spacingAndGlyphs">-10</text>
<text x="366.8" y="708.5" font-size="24.5" text-anchor="start" font-weight="normal" fill="#1c1c1e" stroke="#1c1c1e" stroke-width="0.35" textLength="33.9" lengthAdjust="spacingAndGlyphs">-20</text>
<text x="411.7" y="734.7" font-size="24.5" text-anchor="middle" font-weight="normal" fill="#1c1c1e" stroke="#1c1c1e" stroke-width="0.35">0</text>
<text x="521.3" y="734.7" font-size="24.5" text-anchor="middle" font-weight="normal" fill="#1c1c1e" stroke="#1c1c1e" stroke-width="0.35">10</text>
<text x="628.6" y="734.7" font-size="24.5" text-anchor="middle" font-weight="normal" fill="#1c1c1e" stroke="#1c1c1e" stroke-width="0.35">20</text>
<text transform="translate(358 669.6) rotate(-90)" x="0" y="0" font-size="25" fill="#1c1c1e" stroke="#1c1c1e" stroke-width="0.35" textLength="203.3" lengthAdjust="spacingAndGlyphs">Signal change (%)</text>
<text x="468.5" y="761.7" font-size="24.7" text-anchor="start" font-weight="normal" fill="#1c1c1e" stroke="#1c1c1e" stroke-width="0.35" textLength="116.6" lengthAdjust="spacingAndGlyphs">Time (min)</text>
<rect x="808.3" y="416" width="67.2" height="289.6" fill="#b9d4f3"/>
<path d="M745.4 418.3 L745.4 705.6 L962.8 705.6" fill="none" stroke="#1c1c1e" stroke-width="2.2" stroke-linejoin="miter"/>
<line x1="745.4" y1="500.5" x2="756.9" y2="500.5" stroke="#1c1c1e" stroke-width="2"/>
<line x1="745.4" y1="603.7" x2="756.9" y2="603.7" stroke="#1c1c1e" stroke-width="2"/>
<line x1="854.1" y1="705.6" x2="854.1" y2="694.6" stroke="#1c1c1e" stroke-width="2"/>
<line x1="962.2" y1="705.6" x2="962.2" y2="694.6" stroke="#1c1c1e" stroke-width="2"/>
<path d="M746 494 L747.3 492.2 L753.7 482.4 L757.3 489.9 L763 481 L769.2 473.8 L772.9 472.8 L777.4 489.9 L781.1 488.4 L784.7 500.4 L789 500 L794 496 L799 474 L802 483 L804.8 503 L810.3 484.9 L814.8 474.9 L821.2 495 L828.5 475.8 L832.5 500 L835.8 512.5 L839.5 513.8 L843.1 512 L847 494 L852.2 463.8 L856.8 453.9 L860.5 448.5 L865 462.9 L868 500 L870.3 503 L876.9 490 L881 504 L884.3 510 L889.2 502 L895.8 490 L901.6 500 L906.6 486 L912.3 498 L916 500 L920.6 508 L925 500 L929.6 496 L935 486 L938 480 L940.4 479.6 L940.4 505 L937.9 500 L929.6 512 L925 516 L920.6 527 L918 522 L912.3 513 L906.6 502 L901.6 514 L895.8 505 L889.2 522 L884.3 537 L881 520 L876.9 505 L870.3 514 L868 512 L865 480.9 L860.5 474.5 L856.8 479.9 L852.2 481.8 L847 516 L843.1 532 L839.5 529.8 L835.8 528.5 L832.5 516 L828.5 491.8 L821.2 511 L814.8 490.9 L810.3 502.9 L804.8 531 L802 511 L799 504 L794 516 L789 520 L784.7 518.4 L781.1 508.4 L777.4 513.9 L772.9 506.8 L769.2 505.8 L763 513 L757.3 523.9 L753.7 510.4 L747.3 510.2 L746 506 Z" fill="#ccdbd8" stroke="#ccdbd8" stroke-width="1.2" stroke-linejoin="round" opacity="0.92"/>
<path d="M746 500 C746.2 500 746.4 500.4 747.3 500.2 C748.2 500 752.5 498 753.7 498.4 C754.9 498.8 756.2 504.1 757.3 503.9 C758.4 503.7 761.6 498.2 763 497 C764.4 495.8 768 494.1 769.2 493.8 C770.4 493.5 771.9 493.6 772.9 494.8 C773.9 496 776.4 503.5 777.4 503.9 C778.4 504.3 780.2 497.9 781.1 498.4 C782 498.9 783.8 507 784.7 508.4 C785.6 509.8 787.9 510.3 789 510 C790.1 509.7 792.8 508.1 794 506 C795.2 503.9 798.1 493.1 799 492 C799.9 490.9 801.3 494.6 802 497 C802.7 499.4 803.8 513.5 804.8 513 C805.8 512.5 809.1 496.4 810.3 492.9 C811.5 489.4 813.5 481.7 814.8 482.9 C816.1 484.1 819.6 502.9 821.2 503 C822.8 503.1 827.2 483.2 828.5 483.8 C829.8 484.4 831.6 503.7 832.5 508 C833.4 512.3 835 518.9 835.8 520.5 C836.6 522.1 838.6 521.9 839.5 521.8 C840.4 521.7 842.2 522.3 843.1 520 C844 517.7 845.9 507.4 847 502 C848.1 496.6 851.1 477.3 852.2 473.8 C853.3 470.3 855.8 472.8 856.8 471.9 C857.8 471 859.5 466.4 860.5 466.5 C861.5 466.6 863.9 468 865 472.9 C866.1 477.8 868.9 505.6 870.3 508.4 C871.7 511.2 875.7 496.7 876.9 496.9 C878.1 497.1 880.1 507.4 881 510 C881.9 512.6 883.6 518.2 884.3 519.2 C885 520.2 886.2 519.3 886.8 518.3 C887.4 517.3 888.2 513.4 889.2 510.9 C890.2 508.4 894.4 497.3 895.8 496.9 C897.2 496.5 900.3 508.1 901.6 507.6 C902.9 507.1 905.4 493 906.6 492.8 C907.8 492.6 911.2 504.4 912.3 506 C913.3 507.6 914.6 505.5 915.6 506.8 C916.6 508.1 919 517.9 920.6 517.5 C922.2 517.1 927.6 506.5 929.6 503.5 C931.6 500.5 936.6 493.1 937.9 491.9 C939.2 490.7 940.1 493.4 940.4 493.6" fill="none" stroke="#1c1c1e" stroke-width="2.6" stroke-linejoin="round" stroke-linecap="round"/>
<path d="M746 506 L747.3 507 L752.8 500.6 L758.3 504.3 L767.4 494.2 L777.4 511.6 L784.7 507.9 L792 505.2 L800.2 475.8 L805.7 494.2 L810.3 513.5 L813 537.2 L817.2 572.8 L820.4 594.8 L822.9 599 L825.7 599.4 L828.6 599.6 L833.6 614.9 L841.5 614.8 L847.3 617.6 L853 610.1 L859.4 601.2 L863.8 614.4 L871.6 619.5 L878.1 618.7 L886 645.8 L893.9 623.7 L898.9 621 L906.1 615.9 L914 609.8 L921.1 629.4 L929 606.8 L935.5 621.4 L940.5 611.8 L940.5 655.8 L935.5 659.4 L929 646.8 L921.1 661.4 L914 659.8 L906.1 657.9 L898.9 661 L893.9 663.7 L886 681.8 L878.1 660.7 L871.6 663.5 L863.8 654.4 L859.4 649.2 L853 650.1 L847.3 645.6 L841.5 642.8 L833.6 648.9 L828.6 639.6 L825.7 635.4 L822.9 627 L820.4 610.8 L817.2 582.8 L813 547.2 L810.3 523.5 L805.7 506.2 L800.2 489.8 L792 517.2 L784.7 519.9 L777.4 523.6 L767.4 506.2 L758.3 516.3 L752.8 512.6 L747.3 519 L746 518 Z" fill="#fde0c8" stroke="#fde0c8" stroke-width="1.2" stroke-linejoin="round"/>
<path d="M746 512 C746.2 512.1 746.5 513.6 747.3 513 C748.1 512.4 751.5 506.9 752.8 506.6 C754.1 506.3 756.6 511 758.3 510.3 C760 509.6 765.2 499.3 767.4 500.2 C769.6 501.1 775.4 516 777.4 517.6 C779.4 519.2 783 514.6 784.7 513.9 C786.4 513.2 790.2 514.7 792 511.2 C793.8 507.7 798.6 485.1 800.2 483.8 C801.8 482.5 804.5 496.2 805.7 500.2 C806.9 504.2 809.4 513.6 810.3 518.5 C811.2 523.4 812.2 535.3 813 542.2 C813.8 549.1 816.3 570.7 817.2 577.8 C818.1 584.9 819.7 598.7 820.4 602.8 C821.1 606.9 822.3 611.1 822.9 613 C823.5 614.9 825 618.4 825.7 619.4 C826.4 620.4 827.7 620.3 828.6 621.6 C829.5 622.9 832.1 630.1 833.6 630.9 C835.1 631.7 839.9 628.7 841.5 628.8 C843.1 628.9 846 631.7 847.3 631.6 C848.6 631.5 851.6 628.8 853 628.1 C854.4 627.4 858.1 624.7 859.4 625.2 C860.7 625.7 862.4 630.7 863.8 632.4 C865.2 634.1 869.9 639 871.6 639.5 C873.3 640 876.4 634.1 878.1 636.7 C879.8 639.3 884.2 661.2 886 661.8 C887.8 662.4 892.4 644.1 893.9 641.7 C895.4 639.3 897.5 641.7 898.9 641 C900.3 640.3 904.3 636.7 906.1 635.9 C907.9 635.1 912.2 632.5 914 633.8 C915.8 635.1 919.4 648 921.1 647.4 C922.9 646.8 927.3 630 929 628.8 C930.7 627.6 934.2 636.8 935.5 637.4 C936.8 638 939.9 634.2 940.5 633.8" fill="none" stroke="#de7f2c" stroke-width="2.2" stroke-linejoin="round" stroke-linecap="round"/>
<text x="733.4" y="508.6" font-size="24.5" text-anchor="end" font-weight="normal" fill="#1c1c1e" stroke="#1c1c1e" stroke-width="0.35">0</text>
<text x="700" y="614" font-size="24.5" text-anchor="start" font-weight="normal" fill="#1c1c1e" stroke="#1c1c1e" stroke-width="0.35" textLength="33.9" lengthAdjust="spacingAndGlyphs">-10</text>
<text x="699.6" y="708.5" font-size="24.5" text-anchor="start" font-weight="normal" fill="#1c1c1e" stroke="#1c1c1e" stroke-width="0.35" textLength="33.9" lengthAdjust="spacingAndGlyphs">-20</text>
<text x="743.8" y="734.7" font-size="24.5" text-anchor="middle" font-weight="normal" fill="#1c1c1e" stroke="#1c1c1e" stroke-width="0.35">0</text>
<text x="852.8" y="734.7" font-size="24.5" text-anchor="middle" font-weight="normal" fill="#1c1c1e" stroke="#1c1c1e" stroke-width="0.35">10</text>
<text x="960.2" y="734.7" font-size="24.5" text-anchor="middle" font-weight="normal" fill="#1c1c1e" stroke="#1c1c1e" stroke-width="0.35">20</text>
<text transform="translate(689.3 669.6) rotate(-90)" x="0" y="0" font-size="25" fill="#1c1c1e" stroke="#1c1c1e" stroke-width="0.35" textLength="203.3" lengthAdjust="spacingAndGlyphs">Signal change (%)</text>
<text x="798.9" y="761.5" font-size="24.7" text-anchor="start" font-weight="normal" fill="#1c1c1e" stroke="#1c1c1e" stroke-width="0.35" textLength="117.6" lengthAdjust="spacingAndGlyphs">Time (min)</text>
<path d="M1117.4 21.9 L1117.4 302.5 L1334 302.5" fill="none" stroke="#1c1c1e" stroke-width="2.2" stroke-linejoin="miter"/>
<line x1="1117.4" y1="61.9" x2="1127.4" y2="61.9" stroke="#1c1c1e" stroke-width="2"/>
<line x1="1117.4" y1="158.1" x2="1127.4" y2="158.1" stroke="#1c1c1e" stroke-width="2"/>
<line x1="1117.4" y1="254.1" x2="1127.4" y2="254.1" stroke="#1c1c1e" stroke-width="2"/>
<line x1="1184.2" y1="302.5" x2="1184.2" y2="292.5" stroke="#1c1c1e" stroke-width="2"/>
<line x1="1251.3" y1="302.5" x2="1251.3" y2="292.5" stroke="#1c1c1e" stroke-width="2"/>
<line x1="1318.7" y1="302.5" x2="1318.7" y2="292.5" stroke="#1c1c1e" stroke-width="2"/>
<text x="1101.9" y="72.2" font-size="24.5" text-anchor="end" font-weight="normal" fill="#1c1c1e" stroke="#1c1c1e" stroke-width="0.35">20</text>
<text x="1097.2" y="166.6" font-size="24.5" text-anchor="end" font-weight="normal" fill="#1c1c1e" stroke="#1c1c1e" stroke-width="0.35">10</text>
<text x="1097.2" y="260.3" font-size="24.5" text-anchor="end" font-weight="normal" fill="#1c1c1e" stroke="#1c1c1e" stroke-width="0.35">0</text>
<text x="1115.6" y="328.7" font-size="24.5" text-anchor="middle" font-weight="normal" fill="#1c1c1e" stroke="#1c1c1e" stroke-width="0.35">0</text>
<text x="1183.3" y="328.7" font-size="24.5" text-anchor="middle" font-weight="normal" fill="#1c1c1e" stroke="#1c1c1e" stroke-width="0.35">2</text>
<text x="1250" y="328.7" font-size="24.5" text-anchor="middle" font-weight="normal" fill="#1c1c1e" stroke="#1c1c1e" stroke-width="0.35">4</text>
<text x="1316.8" y="328.7" font-size="24.5" text-anchor="middle" font-weight="normal" fill="#1c1c1e" stroke="#1c1c1e" stroke-width="0.35">6</text>
<text x="1126.1" y="360.7" font-size="24.7" text-anchor="start" font-weight="normal" fill="#1c1c1e" stroke="#1c1c1e" stroke-width="0.35" textLength="194.6" lengthAdjust="spacingAndGlyphs">UV duration (min)</text>
<text transform="translate(1064.4 267.6) rotate(-90)" x="0" y="0" font-size="25" fill="#1c1c1e" stroke="#1c1c1e" stroke-width="0.35" textLength="230.3" lengthAdjust="spacingAndGlyphs">Signal difference (%)</text>
<path d="M1133.9 177.4 L1133.9 197.6 M1130.3 177.4 L1137.5 177.4 M1130.3 197.6 L1137.5 197.6" stroke="#dc7f2e" stroke-width="2" fill="none"/>
<path d="M1184 115.5 L1184 140.6 M1180.4 115.5 L1187.6 115.5 M1180.4 140.6 L1187.6 140.6" stroke="#dc7f2e" stroke-width="2" fill="none"/>
<path d="M1319.6 48.8 L1319.6 109.9 M1316 48.8 L1323.2 48.8 M1316 109.9 L1323.2 109.9" stroke="#dc7f2e" stroke-width="2" fill="none"/>
<path d="M1133.9 187.2 L1184 128 L1319.6 79.4" fill="none" stroke="#dc7f2e" stroke-width="2.0" stroke-linejoin="round" stroke-linecap="round"/>
<circle cx="1133.9" cy="187.2" r="6.4" fill="#f4821e" stroke="#dc7f2e" stroke-width="1"/>
<circle cx="1184" cy="128" r="6.4" fill="#f4821e" stroke="#dc7f2e" stroke-width="1"/>
<circle cx="1319.6" cy="79.4" r="6.4" fill="#f4821e" stroke="#dc7f2e" stroke-width="1"/>
<path d="M1184.3 245.9 L1184.3 266.7 M1180.7 245.9 L1187.9 245.9 M1180.7 266.7 L1187.9 266.7" stroke="#1c1c1e" stroke-width="2.2" fill="none"/>
<path d="M1319.8 216.5 L1319.8 264.8 M1316.2 216.5 L1323.4 216.5 M1316.2 264.8 L1323.4 264.8" stroke="#1c1c1e" stroke-width="2.2" fill="none"/>
<path d="M1133.9 246.2 L1184.3 256.2 L1319.8 240.9" fill="none" stroke="#1c1c1e" stroke-width="2.6" stroke-linejoin="round" stroke-linecap="round"/>
<circle cx="1133.9" cy="246.2" r="6.9" fill="#1c1c1e"/>
<circle cx="1184.3" cy="256.2" r="6.9" fill="#1c1c1e"/>
<circle cx="1319.8" cy="240.9" r="6.9" fill="#1c1c1e"/>
<path d="M1117.4 421.9 L1117.4 701.2 L1334 701.2" fill="none" stroke="#1c1c1e" stroke-width="2.2" stroke-linejoin="miter"/>
<line x1="1117.4" y1="461.9" x2="1127.4" y2="461.9" stroke="#1c1c1e" stroke-width="2"/>
<line x1="1117.4" y1="558.1" x2="1127.4" y2="558.1" stroke="#1c1c1e" stroke-width="2"/>
<line x1="1117.4" y1="654.1" x2="1127.4" y2="654.1" stroke="#1c1c1e" stroke-width="2"/>
<line x1="1184.2" y1="701.2" x2="1184.2" y2="691.2" stroke="#1c1c1e" stroke-width="2"/>
<line x1="1251.3" y1="701.2" x2="1251.3" y2="691.2" stroke="#1c1c1e" stroke-width="2"/>
<line x1="1318.7" y1="701.2" x2="1318.7" y2="691.2" stroke="#1c1c1e" stroke-width="2"/>
<text x="1101.9" y="472.2" font-size="24.5" text-anchor="end" font-weight="normal" fill="#1c1c1e" stroke="#1c1c1e" stroke-width="0.35">20</text>
<text x="1097.2" y="566.6" font-size="24.5" text-anchor="end" font-weight="normal" fill="#1c1c1e" stroke="#1c1c1e" stroke-width="0.35">10</text>
<text x="1097.2" y="660.3" font-size="24.5" text-anchor="end" font-weight="normal" fill="#1c1c1e" stroke="#1c1c1e" stroke-width="0.35">0</text>
<text x="1117.2" y="730" font-size="24.5" text-anchor="middle" font-weight="normal" fill="#1c1c1e" stroke="#1c1c1e" stroke-width="0.35">0</text>
<text x="1184" y="730" font-size="24.5" text-anchor="middle" font-weight="normal" fill="#1c1c1e" stroke="#1c1c1e" stroke-width="0.35">2</text>
<text x="1251.5" y="730" font-size="24.5" text-anchor="middle" font-weight="normal" fill="#1c1c1e" stroke="#1c1c1e" stroke-width="0.35">4</text>
<text x="1318.1" y="730" font-size="24.5" text-anchor="middle" font-weight="normal" fill="#1c1c1e" stroke="#1c1c1e" stroke-width="0.35">6</text>
<text x="1123.3" y="761" font-size="24.7" text-anchor="start" font-weight="normal" fill="#1c1c1e" stroke="#1c1c1e" stroke-width="0.35" textLength="209.8" lengthAdjust="spacingAndGlyphs">Blue duration (min)</text>
<text transform="translate(1064.4 669.1) rotate(-90)" x="0" y="0" font-size="25" fill="#1c1c1e" stroke="#1c1c1e" stroke-width="0.35" textLength="231" lengthAdjust="spacingAndGlyphs">Signal difference (%)</text>
<path d="M1184.8 513.5 L1184.8 548.9 M1181.2 513.5 L1188.4 513.5 M1181.2 548.9 L1188.4 548.9" stroke="#dc7f2e" stroke-width="2" fill="none"/>
<path d="M1319.4 442.4 L1319.4 493.9 M1315.8 442.4 L1323 442.4 M1315.8 493.9 L1323 493.9" stroke="#dc7f2e" stroke-width="2" fill="none"/>
<path d="M1134.3 584.1 L1184.8 531.1 L1319.4 468.4" fill="none" stroke="#dc7f2e" stroke-width="2.0" stroke-linejoin="round" stroke-linecap="round"/>
<circle cx="1134.3" cy="584.1" r="6.4" fill="#f4821e" stroke="#dc7f2e" stroke-width="1"/>
<circle cx="1184.8" cy="531.1" r="6.4" fill="#f4821e" stroke="#dc7f2e" stroke-width="1"/>
<circle cx="1319.4" cy="468.4" r="6.4" fill="#f4821e" stroke="#dc7f2e" stroke-width="1"/>
<path d="M1319.6 623.3 L1319.6 646.8 M1316 623.3 L1323.2 623.3 M1316 646.8 L1323.2 646.8" stroke="#1c1c1e" stroke-width="2.2" fill="none"/>
<path d="M1134.6 643.5 L1184.7 638.5 L1319.6 635.5" fill="none" stroke="#1c1c1e" stroke-width="2.6" stroke-linejoin="round" stroke-linecap="round"/>
<circle cx="1134.6" cy="643.5" r="6.9" fill="#1c1c1e"/>
<circle cx="1184.7" cy="638.5" r="6.9" fill="#1c1c1e"/>
<circle cx="1319.6" cy="635.5" r="6.9" fill="#1c1c1e"/>
<text x="211.6" y="150.7" font-size="25" text-anchor="start" font-weight="normal" fill="#de7f2c" stroke="#de7f2c" stroke-width="0.35" textLength="67.4" lengthAdjust="spacingAndGlyphs">LisNR</text>
<text x="209.3" y="287.6" font-size="21" text-anchor="start" font-weight="normal" fill="#1c1c1e" stroke="#1c1c1e" stroke-width="0.35" textLength="70.3" lengthAdjust="spacingAndGlyphs">No stim</text>
<text x="0.5" y="19" font-size="33" text-anchor="start" font-weight="bold" fill="#111" stroke="#111" stroke-width="0.35" textLength="16.1" lengthAdjust="spacingAndGlyphs">a</text>
<text x="0.3" y="427.7" font-size="33" text-anchor="start" font-weight="bold" fill="#111" stroke="#111" stroke-width="0.35" textLength="19.3" lengthAdjust="spacingAndGlyphs">b</text>
<text x="1019.1" y="19" font-size="33" text-anchor="start" font-weight="bold" fill="#111" stroke="#111" stroke-width="0.35" textLength="17.3" lengthAdjust="spacingAndGlyphs">c</text>
<text x="1019.2" y="428" font-size="33" text-anchor="start" font-weight="bold" fill="#111" stroke="#111" stroke-width="0.35" textLength="19.9" lengthAdjust="spacingAndGlyphs">d</text>
</svg>
</body></html>
